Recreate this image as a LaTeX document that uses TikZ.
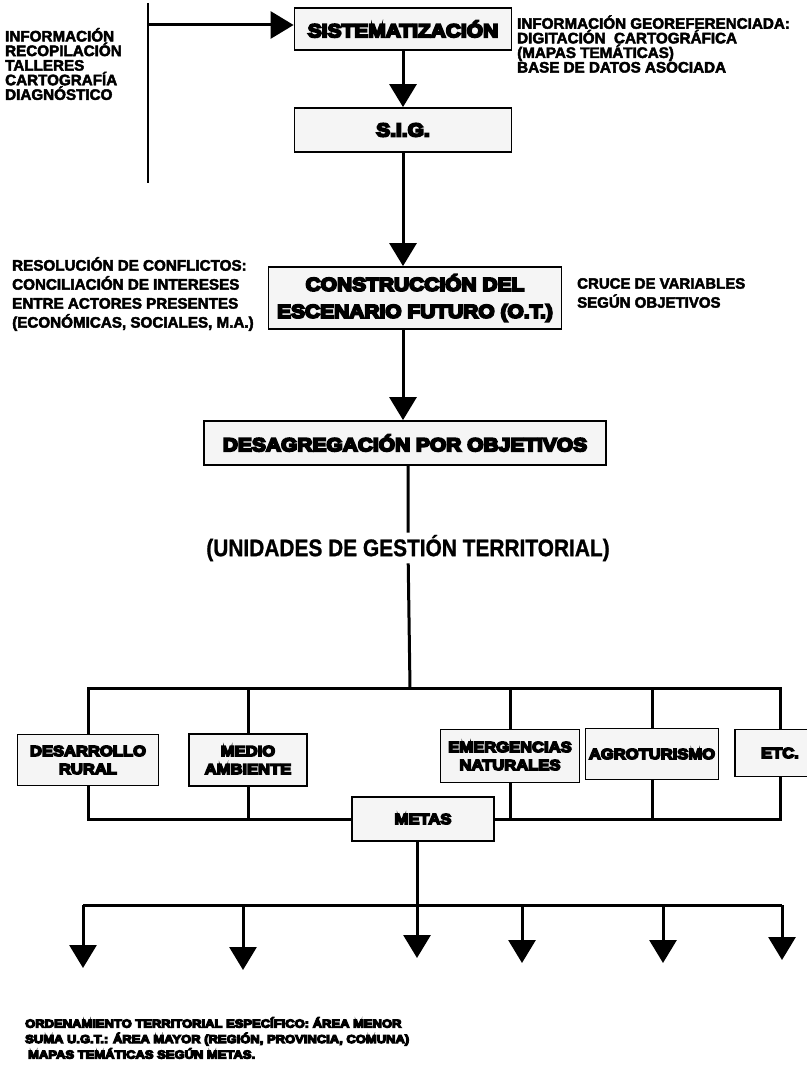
\documentclass[tikz,border=0pt]{standalone}
\usepackage{fontspec}
\setmainfont{Liberation Sans}
\newfontfamily\heavyfont[UprightFont={* Bold},FakeBold=10,FakeStretch=1.12]{Liberation Sans}
\newfontfamily\labelfont[UprightFont={* Bold},FakeBold=3]{Liberation Sans}
\newfontfamily\narrowfont[UprightFont={* Bold},FakeBold=1,FakeStretch=0.87]{Liberation Sans}
\usetikzlibrary{arrows.meta,positioning}
\tikzset{
  >={Triangle[length=23pt,width=27pt]},
  box/.style     ={draw=black,line width=1.8pt,fill=black!4,align=center,inner sep=0pt,
                   font=\heavyfont\fontsize{18.7}{27}\selectfont},
  smallbox/.style={box,font=\heavyfont\fontsize{14.8}{18}\selectfont},
  lbl/.style     ={font=\labelfont\fontsize{15.2}{14.6}\selectfont,align=left,inner sep=0pt},
  lblwide/.style ={lbl,font=\labelfont\fontsize{15.2}{19}\selectfont},
  note/.style    ={align=left,inner sep=0pt,font=\heavyfont\fontsize{11.6}{15.5}\selectfont},
  flow/.style    ={draw=black,line width=3pt},
  spine/.style   ={draw=black,line width=2.4pt},
}
\begin{document}
\begin{tikzpicture}[x=1pt,y=-1pt]
\useasboundingbox (0,0) rectangle (806,1065);
% upper column
\node[box,minimum width=217,minimum height=42] (sist) at (403,29) {SISTEMATIZACIÓN};
\node[box,minimum width=217,minimum height=44] (sig) at (403,130) {S.I.G.};
\node[box,minimum width=293,minimum height=62] (constr) at (415,298)
 {CONSTRUCCIÓN DEL\\ ESCENARIO FUTURO (O.T.)};
\node[box,minimum width=402,minimum height=44] (desag) at (405,443) {DESAGREGACIÓN POR OBJETIVOS};
\node[inner sep=2pt,font=\narrowfont\fontsize{24}{28}\selectfont] (ugt) at (408,548)
 {(UNIDADES DE GESTIÓN TERRITORIAL)};

\node[lbl,anchor=west] (fuentes) at (5,64)
 {INFORMACIÓN\\ RECOPILACIÓN\\ TALLERES\\ CARTOGRAFÍA\\ DIAGNÓSTICO};
\node[lbl,anchor=west] (georef) at (517,44)
 {INFORMACIÓN GEOREFERENCIADA:\\ DIGITACIÓN\ \ CARTOGRÁFICA\\ (MAPAS TEMÁTICAS)\\ BASE DE DATOS ASOCIADA};
\node[lblwide,anchor=west] (conflictos) at (12,294)
 {RESOLUCIÓN DE CONFLICTOS:\\ CONCILIACIÓN DE INTERESES\\ ENTRE ACTORES PRESENTES\\
  (ECONÓMICAS, SOCIALES, M.A.)};
\node[lblwide,anchor=west,font=\labelfont\fontsize{15}{19}\selectfont] (cruce) at (577,293)
 {CRUCE DE VARIABLES\\ SEGÚN OBJETIVOS};

\coordinate (spinetop) at (148,3);
\coordinate (spinebot) at (148,183);
\coordinate (feed) at (148,25);
\draw[spine] (spinetop) -- (spinebot);
\draw[flow,->] (feed) -- (sist.west |- feed);
\draw[flow,->] (sist) -- (sig);
\draw[flow,->] (sig.south) -- (sig.south |- constr.north);
\draw[flow,->] (constr.south -| sig) -- (sig |- desag.north);

% unidades de gestion
\node[smallbox,minimum width=141,minimum height=51] (rural) at (88,760) {DESARROLLO\\ RURAL};
\node[smallbox,minimum width=118,minimum height=52] (medio) at (248,760) {MEDIO\\ AMBIENTE};
\node[smallbox,minimum width=139,minimum height=53] (emerg) at (510,756) {EMERGENCIAS\\ NATURALES};
\node[smallbox,minimum width=133,minimum height=51] (agro) at (652,754) {AGROTURISMO};
\node[smallbox,minimum width=90,minimum height=47] (etc) at (780,753) {ETC.};
\node[smallbox,minimum width=142,minimum height=44] (metas) at (423,819) {METAS};

\coordinate (hub1) at (410,688);
\draw[flow] (desag.south -| ugt) -- (ugt) -- (hub1);
\draw[flow] (rural.north) |- (hub1) -| (etc.north);
\foreach \n in {medio,emerg,agro}
  \draw[flow] (\n.north) -- (\n.north |- hub1);
\draw[flow] (rural.south) |- (metas.west);
\draw[flow] (medio.south) -- (medio.south |- metas.west);
\draw[flow] (metas.east) -| (etc.south);
\foreach \n in {emerg,agro}
  \draw[flow] (\n.south) -- (\n.south |- metas.east);

% ordenamiento especifico
\coordinate (hub3) at (417,905);
\draw[flow] (metas.south -| hub3) -- (hub3);
\foreach \x/\t/\n in {83/968/1,243/970/2,417/958/3,522/963/4,663/963/5,782/960/6}{
  \coordinate (top\n) at (\x,905);
  \coordinate (tip\n) at (\x,\t);
  \draw[flow,->] (top\n) -- (tip\n);
}
\draw[flow] (top1) -- (top6);

\node[note,anchor=west] (ordenamiento) at (25,1038)
 {ORDENAMIENTO TERRITORIAL ESPECÍFICO: ÁREA MENOR\\
  SUMA U.G.T.: ÁREA MAYOR (REGIÓN, PROVINCIA, COMUNA)\\
  \hspace{3pt}MAPAS TEMÁTICAS SEGÚN METAS.};
\end{tikzpicture}
\end{document}
